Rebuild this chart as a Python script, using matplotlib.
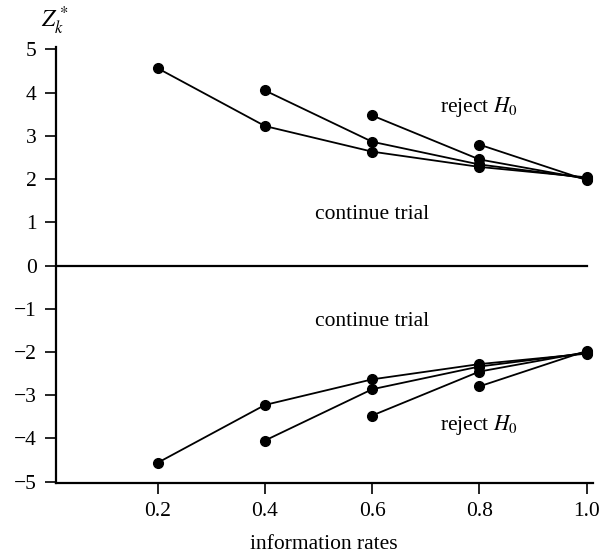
import numpy as np
import matplotlib
matplotlib.use("Agg")
import matplotlib.pyplot as plt

plt.rcParams["font.family"] = ["Liberation Serif", "DejaVu Serif"]
plt.rcParams["mathtext.fontset"] = "stix"

# Critical values of the group sequential boundaries, one list per number of stages
rates_k2 = [0.8, 1.0]
upper_k2 = [2.797, 1.977]
rates_k3 = [0.6, 0.8, 1.0]
upper_k3 = [3.471, 2.454, 2.004]
rates_k4 = [0.4, 0.6, 0.8, 1.0]
upper_k4 = [4.049, 2.863, 2.337, 2.024]
rates_k5 = [0.2, 0.4, 0.6, 0.8, 1.0]
upper_k5 = [4.562, 3.226, 2.634, 2.281, 2.040]

x_ticks = [0.2, 0.4, 0.6, 0.8, 1.0]
x_labels = ["0.2", "0.4", "0.6", "0.8", "1.0"]
y_ticks = [5, 4, 3, 2, 1, 0, -1, -2, -3, -4, -5]
y_labels = ["5", "4", "3", "2", "1", "0", "\u22121", "\u22122", "\u22123", "\u22124", "\u22125"]

fig = plt.figure(figsize=(6.02, 5.57), dpi=100)
ax = fig.add_axes([0.093, 0.133, 0.892, 0.783])

designs = [(rates_k2, upper_k2), (rates_k3, upper_k3),
           (rates_k4, upper_k4), (rates_k5, upper_k5)]
for rates, upper in designs:
    up = np.array(upper)
    ax.plot(rates, up, color="black", lw=1.3, marker="o", ms=7)
    ax.plot(rates, -up, color="black", lw=1.3, marker="o", ms=7)

ax.set_xlim(0.01, 1.012)
ax.set_ylim(-5.03, 5.06)
ax.plot([0.01, 1.0], [0, 0], color="black", lw=1.6)

ax.set_xticks(x_ticks)
ax.set_xticklabels(x_labels)
ax.set_yticks(y_ticks)
ax.set_yticklabels(y_labels)
ax.tick_params(direction="out", length=8, width=1.2, labelsize=15.5, pad=6)

for side in ["top", "right"]:
    ax.spines[side].set_visible(False)
for side in ["left", "bottom"]:
    ax.spines[side].set_linewidth(1.6)

ax.text(0.80, 3.66, r"reject $H_0$", fontsize=15.5, ha="center", va="center")
ax.text(0.80, -3.68, r"reject $H_0$", fontsize=15.5, ha="center", va="center")
ax.text(0.60, 1.17, "continue trial", fontsize=15.5, ha="center", va="center")
ax.text(0.60, -1.30, "continue trial", fontsize=15.5, ha="center", va="center")

fig.text(0.091, 0.962, r"$Z_k^*$", fontsize=17, ha="center", va="center")
fig.text(0.538, 0.022, "information rates", fontsize=15.5, ha="center", va="center")

fig.savefig("out.png", dpi=100)
